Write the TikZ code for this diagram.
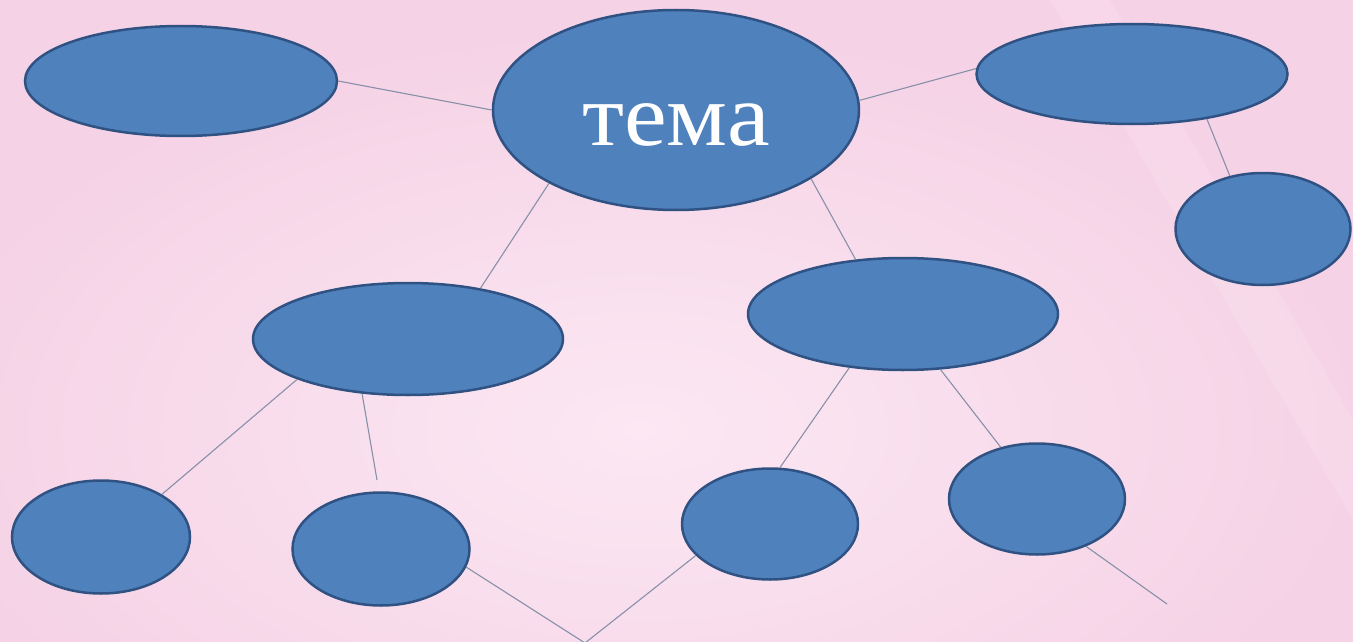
\documentclass[tikz,border=0pt]{standalone}
\usepackage{fontspec}
\setmainfont{Liberation Serif}
\usetikzlibrary{shapes.geometric}
\definecolor{bubble}{HTML}{4F81BD}
\definecolor{bubbleedge}{HTML}{2F5283}
\definecolor{linkc}{HTML}{8790A8}
\definecolor{bgpink}{HTML}{F6D2E6}
\definecolor{bglight}{HTML}{FDE9F4}
\tikzset{
  bub/.style={ellipse, draw=bubbleedge, line width=2.5pt, fill=bubble, inner sep=0pt},
  link/.style={draw=linkc, line width=1.1pt}
}
\begin{document}
\begin{tikzpicture}[x=1pt,y=-1pt]
\useasboundingbox (0,0) rectangle (1353,642);
\fill[bgpink] (0,0) rectangle (1353,642);
\shade[inner color=bglight, outer color=bgpink, opacity=0.95] (640,430) ellipse [x radius=760, y radius=420];
\fill[white, opacity=0.12] (1050,0) -- (1110,0) -- (1353,420) -- (1353,520) -- cycle;

\node[bub, minimum width=312, minimum height=110] (tl) at (181,81) {};
\node[bub, minimum width=366, minimum height=200, text=white, font=\fontsize{89}{92}\selectfont, text height=70pt, text depth=0pt] (c) at (676,110) {\scalebox{1.08}[1]{тема}};
\node[bub, minimum width=311, minimum height=100] (tr) at (1132,74) {};
\node[bub, minimum width=175, minimum height=112] (rs) at (1263,229) {};
\node[bub, minimum width=310, minimum height=112] (ml) at (408,339) {};
\node[bub, minimum width=310, minimum height=112] (mr) at (903,314) {};
\node[bub, minimum width=178, minimum height=113] (b1) at (101,537) {};
\node[bub, minimum width=177, minimum height=113] (b2) at (381,549) {};
\node[bub, minimum width=176, minimum height=111] (b3) at (770,524) {};
\node[bub, minimum width=176, minimum height=111] (b4) at (1037,499) {};

\coordinate (gap) at (377,480);
\coordinate (v) at (585,643);
\coordinate (free) at (1167,604);

\path[link] (tl.east) -- (c.west);
\path[link] (c.3) -- (tr.178.5);
\path[link] (c.210.4) -- (ml.35);
\path[link] (c.333.4) -- (mr.131.6);
\path[link] (tr.329.6) -- (rs.122.2);
\path[link] (ml.200.9) -- (b1.35.1);
\path[link] (ml.230.2) -- (gap);
\path[link] (b2.348) -- (v) -- (b3.203);
\path[link] (mr.225.5) -- (b3.80.2);
\path[link] (mr.304.4) -- (b4.125.8);
\path[link] (b4.316.1) -- (free);
\end{tikzpicture}
\end{document}
